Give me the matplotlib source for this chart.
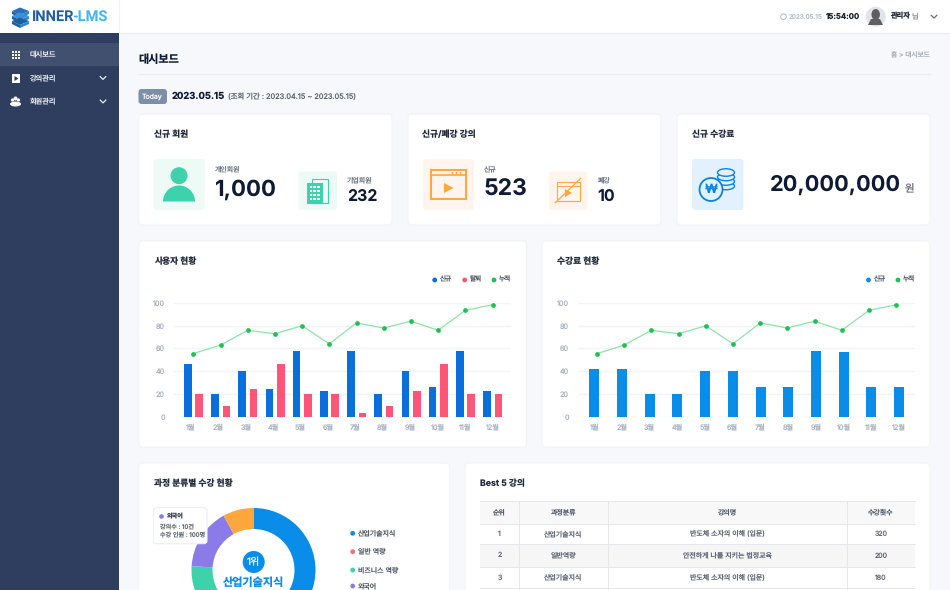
import matplotlib
matplotlib.use('Agg')
import matplotlib.pyplot as plt
from matplotlib.patches import FancyBboxPatch, Circle, Rectangle, Polygon, Wedge, Ellipse

plt.rcParams['font.family'] = ['Inter', 'Noto Sans CJK KR', 'DejaVu Sans']
plt.rcParams['text.hinting'] = 'no_hinting'
plt.rcParams['text.kerning_factor'] = 6

W, H = 950, 590

# 사용자 현황
months = ['1월', '2월', '3월', '4월', '5월', '6월', '7월', '8월', '9월', '10월', '11월', '12월']
user_new = [46, 20, 40, 24, 57.5, 23, 57.5, 20, 40, 26, 57.5, 23]
user_out = [20, 9, 24, 46, 20, 20, 3, 9, 23, 46, 20, 20]
user_total = [55.5, 63, 76, 73, 80, 64, 82.5, 78, 84, 76, 93.5, 98.5]
# 수강료 현황
fee_new = [42, 42, 20, 20, 40, 40, 26.5, 26.5, 57.5, 57, 26, 26]
fee_total = [55.5, 63, 76, 73, 80, 64, 82.5, 78, 84, 76, 93.5, 98.5]
# 과정 분류별
pie_labels = ['산업기술지식', '일반 역량', '비즈니스 역량', '외국어', '기타']
pie_values = [50, 13, 13, 16, 8]
pie_colors = ['#098de8', '#ff6b7f', '#3dd2ab', '#8b7be8', '#ffa63c']
# Best 5 강의
table_head = ['순위', '과정분류', '강의명', '수강횟수']
table_rank = ['1', '2', '3']
table_kind = ['산업기술지식', '일반역량', '산업기술지식']
table_name = ['반도체 소자의 이해 (입문)', '안전하게 나를 지키는 법정교육', '반도체 소자의 이해 (입문)']
table_count = ['320', '200', '180']

DARK = '#0f1a33'
TITLE = '#222b3d'
GREY = '#6f7683'
TICK = '#a9b3c3'
GRID = '#f2f4f7'
LINE_GREEN = '#8fe3a8'
DOT_GREEN = '#1cc152'


def frame(fig, zorder):
    ax = fig.add_axes([0, 0, 1, 1], zorder=zorder)
    ax.set_xlim(0, W)
    ax.set_ylim(H, 0)
    ax.axis('off')
    return ax


def box(ax, x1, y1, x2, y2, color, r=4, ec='none', lw=0, zorder=2):
    ax.add_patch(FancyBboxPatch((x1, y1), x2 - x1, y2 - y1,
                                boxstyle='round,pad=0,rounding_size=%s' % r,
                                fc=color, ec=ec, lw=lw, zorder=zorder))


def card(ax, x1, y1, x2, y2, title, tx=None):
    box(ax, x1, y1, x2, y2, 'white', r=4, ec='#f1f3f7', lw=0.8)
    ax.text(tx if tx else x1 + 15, y1 + 20.5, title, fontsize=6.3, weight='bold',
            color=TITLE, va='center')


def label(ax, x, y, s, size=5, color=GREY, ha='left', weight='normal', zorder=5):
    ax.text(x, y, s, fontsize=size, color=color, ha=ha, va='center',
            weight=weight, zorder=zorder)


def chevron(ax, x, y, color):
    ax.plot([x - 2.8, x, x + 2.8], [y - 1.4, y + 1.4, y - 1.4], color=color, lw=0.9, zorder=5)


def dots(ax, xs, y, colors, names, size=4.8):
    for x, c, n in zip(xs, colors, names):
        ax.add_patch(Circle((x, y), 2.4, fc=c, ec='none', zorder=5))
        label(ax, x + 5, y, n, size=size, color='#4d5563')


def bar_panel(fig, x1, x2, series, colors, width, bar_x, bar_step, tick_x, tick_step, line_x, total):
    # x축은 픽셀 단위, 그리드 y=100 303px, y=0 416.7px
    top, bottom = 303, 416.7
    ax = fig.add_axes([x1 / W, 1 - bottom / H, (x2 - x1) / W, (bottom - top) / H], zorder=3)
    ax.patch.set_alpha(0)
    ax.set_xlim(x1, x2)
    ax.set_ylim(0, 100)
    idx = list(range(len(months)))
    for vals, c, start in zip(series, colors, bar_x):
        ax.bar([start + i * bar_step for i in idx], vals, width=width, color=c, zorder=2)
    ax.plot([line_x + i * 27.2 for i in idx], total, color=LINE_GREEN, lw=0.9, marker='o',
            ms=3.4, mew=0, mfc=DOT_GREEN, zorder=3, clip_on=False)
    ax.set_yticks([0, 20, 40, 60, 80, 100])
    ax.set_xticks([tick_x + i * tick_step for i in idx])
    ax.set_xticklabels(months)
    ax.tick_params(axis='both', length=0, labelsize=5.2, labelcolor=TICK)
    ax.tick_params(axis='x', pad=5)
    ax.tick_params(axis='y', pad=6.5)
    ax.grid(axis='y', color=GRID, lw=1, zorder=0)
    ax.set_axisbelow(True)
    for s in ax.spines.values():
        s.set_visible(False)
    return ax


def draw_chrome(ax):
    # 헤더, 사이드바
    ax.add_patch(Rectangle((0, 0), W, 33, fc='white', ec='none', zorder=1))
    ax.plot([0, W], [32.5, 32.5], color='#e9edf3', lw=0.8, zorder=1)
    ax.plot([118.5, 118.5], [0, 33], color='#eef0f4', lw=0.8, zorder=1)
    ax.add_patch(Rectangle((0, 33), 118.5, H - 33, fc='#2f3e5e', ec='none', zorder=1))
    ax.add_patch(Rectangle((0, 43), 118.5, 23, fc='#42506f', ec='none', zorder=2))

    # 로고
    for i, c in enumerate(['#2a6fb8', '#3d8fd8', '#1f5fa0']):
        y = 11 + i * 5
        ax.add_patch(Polygon([[12, y], [20, y - 3.5], [29, y], [20, y + 4]], fc=c, ec='none', zorder=3))
        ax.add_patch(Polygon([[12, y], [20, y + 4], [20, y + 7], [12, y + 3]], fc='#1f5fa0', ec='none', zorder=3))
        ax.add_patch(Polygon([[20, y + 4], [29, y], [29, y + 3], [20, y + 7]], fc='#2f86cf', ec='none', zorder=3))
    ax.text(32, 16.7, 'INNER', fontsize=10.5, weight='bold', color='#1f5f9f',
            va='center', family='Roboto', zorder=5)
    ax.text(72.7, 16.7, '-LMS', fontsize=10.5, weight='bold', color='#3eb4f0',
            va='center', family='Roboto', zorder=5)

    # 메뉴
    for i in range(3):
        for j in range(3):
            ax.add_patch(Rectangle((12 + i * 3, 50.5 + j * 3), 2.4, 2.4, fc='white', ec='none', zorder=5))
    label(ax, 30, 54, '대시보드', size=5.2, color='#e8ebf2')
    ax.add_patch(Rectangle((12, 74), 8, 9, fc='white', ec='none', zorder=5))
    ax.add_patch(Polygon([[14.5, 76], [18.5, 78.5], [14.5, 81]], fc='#2f3e5e', ec='none', zorder=6))
    label(ax, 30, 78.5, '강의관리', size=5.2, color='#e8ebf2')
    for cx, cy, r in [(15.5, 98.5, 2), (12.5, 100, 1.6), (18.5, 100, 1.6)]:
        ax.add_patch(Circle((cx, cy), r, fc='white', ec='none', zorder=5))
    ax.add_patch(Ellipse((15.5, 104), 11, 5, fc='white', ec='none', zorder=5))
    label(ax, 30, 101, '회원관리', size=5.2, color='#e8ebf2')
    chevron(ax, 103, 78, '#e8ebf2')
    chevron(ax, 103, 101.5, '#e8ebf2')

    # 헤더 오른쪽
    ax.add_patch(Circle((783.5, 16.7), 2.8, fc='none', ec='#9fb0c4', lw=0.6, zorder=5))
    label(ax, 788.5, 16.7, '2023.05.15', size=4.6, color='#b4bfcc')
    label(ax, 826, 16.7, '15:54:00', size=5.6, color='#1c2333', weight='bold')
    ax.add_patch(Circle((875.7, 16.7), 10, fc='#e2e4e8', ec='none', zorder=5))
    ax.add_patch(Ellipse((875.7, 14.5), 8.5, 11, fc='#5f5f62', ec='none', zorder=6))
    ax.add_patch(Polygon([[868, 25], [871, 19], [880, 19], [883, 25]], fc='#5f5f62', ec='none', zorder=6))
    label(ax, 890.5, 16.7, '관리자', size=5.2, color='#222b3d', weight='bold')
    label(ax, 911, 16.7, '님', size=5.2, color='#8a93a1')
    chevron(ax, 934, 16.7, '#666e7c')

    # 제목 영역
    label(ax, 138.5, 60, '대시보드', size=8, color=DARK, weight='bold')
    label(ax, 930, 56, '홈 > 대시보드', size=4.8, color='#a6aeb9', ha='right')
    ax.plot([138.5, 930], [73.5, 73.5], color='#ebedf1', lw=0.8, zorder=1)
    box(ax, 138.5, 89, 167, 104, '#7d8ea8', r=3)
    label(ax, 152.7, 96.5, 'Today', size=5, color='white', ha='center')
    label(ax, 172, 96.5, '2023.05.15', size=6.8, color=DARK, weight='bold')
    label(ax, 228, 96.5, '(조회 기간 : 2023.04.15 ~ 2023.05.15)', size=5.3, color='#5c6472')


def draw_summary(ax):
    card(ax, 138.7, 114, 392, 225, '신규 회원')
    card(ax, 408, 114, 661, 225, '신규/폐강 강의', tx=422.5)
    card(ax, 677, 114, 930, 225, '신규 수강료', tx=692)

    # 개인회원
    green = '#3dd2ab'
    box(ax, 153.5, 159, 204.7, 210, '#eefaf6', r=3)
    ax.add_patch(Circle((179, 175.7), 8.5, fc=green, ec='none', zorder=4))
    ax.add_patch(Wedge((179, 201.5), 16, 180, 360, fc=green, ec='none', zorder=4))
    label(ax, 215, 169, '개인회원', size=5)
    label(ax, 215, 190, '1,000', size=16, color=DARK, weight='bold')
    # 기업회원
    box(ax, 298.3, 171.5, 337, 210, '#eefaf6', r=3)
    ax.add_patch(Rectangle((312, 178.5), 16, 24, fc='none', ec=green, lw=0.8, zorder=4))
    ax.add_patch(Rectangle((307, 183), 15.5, 20.5, fc=green, ec='none', zorder=5))
    for i in range(3):
        for j in range(4):
            ax.add_patch(Rectangle((309.5 + i * 3.9, 185.5 + j * 4), 2.2, 2.2, fc='white', ec='none', zorder=6))
    label(ax, 347, 180, '기업회원', size=5)
    label(ax, 347, 196.5, '232', size=11.5, color=DARK, weight='bold')

    # 신규 강의
    orange = '#ffa63c'
    box(ax, 422.7, 159, 474, 210, '#fff5ee', r=3)
    ax.add_patch(Rectangle((431, 170), 35, 29, fc='none', ec=orange, lw=1.4, zorder=4))
    ax.plot([431, 466], [175, 175], color=orange, lw=1.2, zorder=4)
    for x in [452.5, 456.5, 460.5]:
        ax.add_patch(Circle((x, 173), 1, fc=orange, ec='none', zorder=4))
    ax.add_patch(Polygon([[444, 183], [453.5, 188], [444, 193]], fc=orange, ec='none', zorder=4))
    label(ax, 484, 169, '신규', size=5)
    label(ax, 484, 190, '523', size=16.5, color=DARK, weight='bold')
    # 폐강
    box(ax, 549, 171.5, 587.5, 210, '#fff5ee', r=3)
    ax.add_patch(Rectangle((556.7, 182), 23, 19, fc='none', ec=orange, lw=0.8, zorder=4))
    ax.plot([556.7, 579.7], [186, 186], color=orange, lw=0.7, zorder=4)
    ax.add_patch(Polygon([[565, 189], [572, 193], [565, 197]], fc=orange, ec='none', zorder=4))
    ax.plot([555.3, 580.7], [202.7, 178.3], color=orange, lw=0.9, zorder=5)
    label(ax, 597.5, 180, '폐강', size=5)
    label(ax, 597, 196.5, '10', size=11.5, color=DARK, weight='bold')

    # 수강료
    blue = '#0a84e0'
    box(ax, 692, 159, 743.5, 210, '#e3f0fe', r=3)
    for y in [186, 181.5, 177, 172.5]:
        ax.add_patch(Ellipse((726, y), 17, 7.5, fc='#e3f0fe', ec=blue, lw=1, zorder=4))
    ax.add_patch(Circle((711, 189.5), 11.5, fc='#e3f0fe', ec=blue, lw=1.3, zorder=5))
    label(ax, 711, 189.5, '₩', size=9, color=blue, ha='center', weight='bold', zorder=6)
    label(ax, 770, 185, '20,000,000', size=15.7, color=DARK, weight='bold')
    label(ax, 905, 190, '원', size=7.5, color='#666e7c')


def draw_table(ax):
    xs = [480, 519.3, 607.7, 846.7, 915]
    ys = [501, 523.7, 544.3, 566.7, 588.3]
    ax.add_patch(Rectangle((xs[0], ys[0]), xs[-1] - xs[0], ys[1] - ys[0], fc='#f8f8f9', ec='none', zorder=3))
    ax.add_patch(Rectangle((xs[0], ys[2]), xs[-1] - xs[0], ys[3] - ys[2], fc='#f6f6f7', ec='none', zorder=3))
    for y in ys:
        ax.plot([xs[0], xs[-1]], [y, y], color='#e6e7ea', lw=0.7, zorder=4)
    for x in xs[1:-1]:
        ax.plot([x, x], [ys[0], H], color='#e6e7ea', lw=0.7, zorder=4)
    cx = [(a + b) / 2 for a, b in zip(xs, xs[1:])]
    for x, s in zip(cx, table_head):
        label(ax, x, 512.5, s, size=5, color='#4d5563', ha='center')
    rows = zip(table_rank, table_kind, table_name, table_count)
    for y, row in zip([534, 555.5, 577.5], rows):
        for x, s in zip(cx, row):
            label(ax, x, y, s, size=5, color='#5a6270', ha='center')


def draw_donut(fig, ax, top):
    r = 62
    cx, cy = 253.5, 570
    pie = fig.add_axes([(cx - r) / W, 1 - (cy + r) / H, 2 * r / W, 2 * r / H], zorder=3)
    pie.pie(pie_values, colors=pie_colors, startangle=90, counterclock=False, radius=1,
            wedgeprops={'width': 21 / 62, 'linewidth': 0})
    pie.set_xlim(-1, 1)
    pie.set_ylim(-1, 1)
    top.add_patch(Circle((253.7, 562), 11, fc='#098de8', ec='none', zorder=5))
    label(top, 253.7, 562, '1위', size=7.2, color='white', ha='center', zorder=6)
    label(top, 253.7, 583, pie_labels[0], size=8, color='#098de8', ha='center', weight='bold', zorder=6)
    # 범례
    for y, c, n in zip([533.3, 551.7, 570, 586], pie_colors, pie_labels):
        ax.add_patch(Circle((352.7, y), 2.4, fc=c, ec='none', zorder=5))
        label(ax, 357.7, y, n, size=5, color='#4d5563')
    # 툴팁
    box(top, 153.5, 507.7, 207, 543.7, 'white', r=3, ec='#eceef2', lw=0.8, zorder=3)
    top.add_patch(Circle((161.5, 516.5), 2.3, fc=pie_colors[3], ec='none', zorder=5))
    label(top, 166.5, 516.5, pie_labels[3], size=4.4, color='#3c4452', weight='bold')
    label(top, 159.5, 526.5, '강의수 : 10건', size=4.4, color='#5a6270')
    label(top, 159.5, 535, '수강 인원 : 100명', size=4.4, color='#5a6270')


fig = plt.figure(figsize=(9.5, 5.9), dpi=100, facecolor='#f6f8fb')
base = frame(fig, 1)
top = frame(fig, 10)

draw_chrome(base)
draw_summary(base)

card(base, 138.7, 241, 526.5, 447, '사용자 현황')
card(base, 542, 241, 930, 447, '수강료 현황')
bar_panel(fig, 174, 511, [user_new, user_out], ['#0a6fdc', '#ff5577'], 7.6,
          [187.8, 199.2], 27.2, 191, 27.4, 193.3, user_total)
bar_panel(fig, 578, 915, [fee_new], ['#098de8'], 10, [594.3], 27.7, 594.3, 27.7, 597, fee_total)
dots(base, [434.7, 464.7, 494], 280, ['#0a6fdc', '#ff5577', DOT_GREEN], ['신규', '탈퇴', '누적'])
dots(base, [868.5, 898], 280, ['#098de8', DOT_GREEN], ['신규', '누적'])

card(base, 138.7, 463, 449.7, 600, '과정 분류별 수강 현황')
card(base, 465, 463, 930, 600, 'Best 5 강의')
draw_donut(fig, base, top)
draw_table(base)

fig.savefig('out.png', dpi=100, facecolor=fig.get_facecolor())
